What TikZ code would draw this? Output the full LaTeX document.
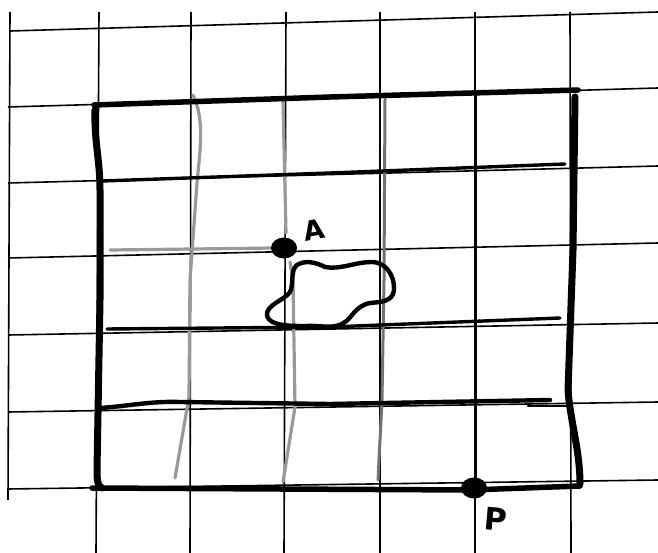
\documentclass[tikz,border=0pt]{standalone}
\usepackage{fontspec}
\setmainfont{DejaVu Sans}
\usetikzlibrary{shapes.geometric}
\begin{document}
\begin{tikzpicture}[x=1pt,y=-1pt,
  grid/.style={line width=1.6pt,black},
  thick edge/.style={line width=5.5pt,black,line cap=round,line join=round},
  mid edge/.style={line width=3.4pt,black,line cap=round,line join=round},
  pencil/.style={line width=3.2pt,black!40,line cap=round,line join=round},
  pencil dark/.style={line width=3pt,black!55,line cap=round,line join=round},
  dot/.style={ellipse,fill=black,inner sep=0pt,minimum width=26pt,minimum height=21pt},
  hand/.style={font=\bfseries\fontsize{27}{27}\selectfont,inner sep=0pt}]
\useasboundingbox[fill=white] (0,0) rectangle (658,553);
% background graph paper
\draw[grid] (10,31) -- (658,12);
\draw[grid] (8,107) -- (658,88);
\draw[grid] (8,183) -- (658,166);
\draw[grid] (8,258) -- (658,243);
\draw[grid] (8,335) -- (658,323);
\draw[grid] (8,412) -- (658,402);
\draw[grid] (8,489) -- (658,480);
\draw[grid] (10,12) -- (8,500);
\draw[grid] (99,12) -- (96,553);
\draw[grid] (191,12) -- (190,553);
\draw[grid] (286,12) -- (284,553);
\draw[grid] (380,12) -- (380,553);
\draw[grid] (475,12) -- (475,553);
\draw[grid] (570,12) -- (571,553);
% pencil lines
\draw[pencil] (193,95) .. controls (205,120) and (200,150) .. (197,183) -- (190,280) -- (189,397) -- (175,478);
\draw[pencil] (283,100) -- (286,233);
\draw[pencil] (290,262) -- (293,280) -- (295,407) -- (283,482);
\draw[pencil dark] (385,99) -- (384,280) -- (382,400) -- (378,480);
\draw[pencil] (110,250) -- (275,248);
% inner drawn lines
\draw[mid edge,line width=3pt] (475,92) -- (475,488);
\draw[mid edge] (102,181) -- (330,173) -- (565,164);
\draw[mid edge] (107,329) -- (330,327) -- (560,318);
\draw[thick edge,line width=4.4pt] (100,408) .. controls (130,406) and (150,401) .. (180,402) -- (330,404) -- (550,400);
\draw[mid edge,line width=2.4pt] (528,406) -- (566,406);
% outer square
\draw[thick edge] (94,105) -- (330,97) -- (578,90);
\draw[thick edge,line width=7pt] (95,110) .. controls (94,140) and (100,160) .. (100,190) -- (100,300) -- (97,470) .. controls (97,482) and (98,486) .. (102,488);
\draw[thick edge] (92,488) -- (470,490) -- (580,486);
\draw[thick edge,line width=7pt] (575,97) -- (573,250) -- (568,390) .. controls (570,420) and (580,450) .. (580,484);
% blob
\draw[thick edge,line width=4.4pt]
  (297,265) .. controls (305,260) and (315,262) .. (325,267)
  .. controls (340,270) and (355,262) .. (372,262)
  .. controls (385,262) and (395,275) .. (394,290)
  .. controls (393,302) and (380,302) .. (370,303)
  .. controls (355,306) and (352,318) .. (345,322)
  .. controls (335,330) and (320,325) .. (305,326)
  .. controls (290,326) and (270,326) .. (267,316)
  .. controls (265,305) and (285,300) .. (290,292)
  .. controls (294,285) and (290,270) .. (297,265) -- cycle;
% points
\node[dot] (A) at (284,248) {};
\node[dot] (P) at (474,488) {};
\node[hand,rotate=10] (labelA) at (314,230) {A};
\node[hand,rotate=-5,font=\bfseries\fontsize{31}{31}\selectfont] (labelP) at (496,519) {P};
\end{tikzpicture}
\end{document}
